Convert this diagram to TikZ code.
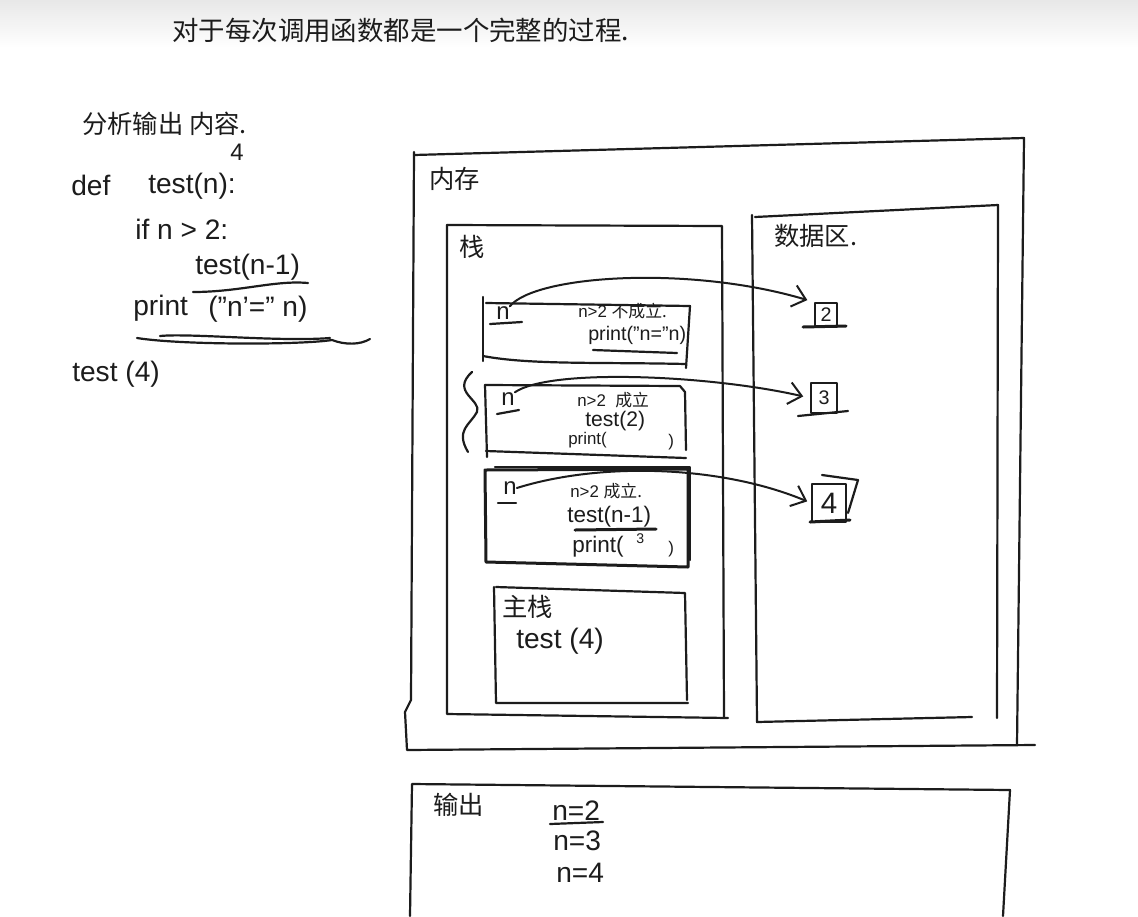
\documentclass[tikz,border=0pt]{standalone}
\usepackage{fontspec}
\setmainfont{Liberation Sans}
\newfontfamily\cjk{Noto Sans CJK SC}
\usepackage{xcolor}
\usepackage{tikz}
\usetikzlibrary{
	arrows.meta,
	calc,
	positioning
}
\definecolor{Ink}{RGB}{28,28,28}
\definecolor{TopBand}{RGB}{232,232,232}

\begin{document}
\begin{tikzpicture}[x=0.025cm, y=-0.025cm, line cap=round, line join=round,
		sketch/.style={draw=Ink, line width=0.55mm},
		heavy/.style={draw=Ink, line width=0.75mm},
		flow/.style={draw=Ink, line width=0.5mm, -{Straight Barb[length=3.2mm, width=5.5mm]}},
		code/.style={text=Ink, anchor=west, inner sep=0pt, font=\fontsize{20}{22}\selectfont},
		small/.style={code, font=\fontsize{12}{14}\selectfont},
		mid/.style={code, font=\fontsize{17}{19}\selectfont},
		head/.style={text=Ink, anchor=west, inner sep=0pt, font=\cjk\fontsize{18}{20}\selectfont},
		value/.style={draw=Ink, line width=0.45mm, text=Ink, inner sep=0pt, font=\fontsize{14}{16}\selectfont}
	]
		\useasboundingbox (0,0) rectangle (1138,916);
		\fill[white] (0,0) rectangle (1138,916);
		\shade[top color=TopBand, bottom color=white] (0,0) rectangle (1138,48);

		% title and left column
		\node[head, font=\cjk\fontsize{18.8}{20}\selectfont] (title) at (172,30) {对于每次调用函数都是一个完整的过程.};
		\node[head] (task) at (82,124) {分析输出 内容.};
		\node[mid] (four) at (230,152) {4};
		\node[code] (def) at (71,185) {def};
		\node[code] (deftest) at (148,186) {test(n):};
		\node[code] (ifline) at (135,229) {if n > 2:};
		\node[code] (recurse) at (195,267) {test(n-1)};
		\node[code] (prt) at (133,308) {print};
		\node[code] (prtargs) at (208,309) {("n'=" n)};
		\node[code] (calltest) at (72,374) {test (4)};
		\draw[sketch] (193,292) .. controls (240,292) and (275,280) .. (308,283);
		\draw[sketch] (137,338) .. controls (180,345) and (300,345) .. (332,340) .. controls (345,345) and (360,345) .. (370,339);
		\draw[sketch] (160,336) .. controls (190,333) and (280,342) .. (330,338);

		% memory
		\draw[sketch] (414,152) -- (411,700) -- (405,712) -- (407,750) -- (1035,745);
		\draw[sketch] (414,155) -- (1024,138) -- (1017,745);
		\node[head] (memlabel) at (429,179) {内存};

		% stack
		\draw[sketch] (447,225) -- (722,226) -- (724,718);
		\draw[sketch] (447,225) -- (447,714) -- (728,718);
		\node[head] (stacklabel) at (459,247) {栈};
		\draw[sketch] (472,372) .. controls (450,392) and (482,400) .. (477,412) .. controls (470,425) and (455,430) .. (468,452);

		% data area
		\draw[sketch] (755,217) -- (998,205) -- (997,718);
		\draw[sketch] (752,215) -- (757,722) -- (972,717);
		\node[head] (datalabel) at (774,236) {数据区.};

		% frame n=2
		\draw[sketch] (483,297) -- (483,361);
		\draw[sketch] (486,303) -- (690,306) -- (686,368);
		\draw[sketch] (483,356) .. controls (530,365) and (600,362) .. (686,364);
		\node[mid] (n2) at (496,313) {n};
		\node[small] (cond2) at (578,311) {n>2 {\cjk 不成立.}};
		\node[code, font=\fontsize{14}{16}\selectfont] (print2) at (588,335) {print("n="n)};
		\draw[sketch] (490,324) -- (522,322);
		\draw[sketch] (593,350) -- (677,353);

		% frame n=3
		\draw[sketch] (485,385) -- (680,386) -- (685,392) -- (686,450);
		\draw[sketch] (485,385) -- (487,457);
		\draw[sketch] (486,451) -- (686,458);
		\node[mid] (n3) at (501,399) {n};
		\node[small] (cond3) at (577,400) {n>2 \ {\cjk 成立}};
		\node[mid, font=\fontsize{15}{17}\selectfont] (call3) at (585,421) {test(2)};
		\node[small] (print3) at (568,440) {print(};
		\node[small] (close3) at (668,442) {)};
		\draw[sketch] (497,414) -- (519,410);

		% frame n=4
		\draw[heavy] (485,470) -- (688,469) -- (688,567) -- (486,562) -- cycle;
		\draw[sketch] (495,467) -- (690,467) -- (690,560);
		\node[mid] (n4) at (503,488) {n};
		\node[small] (cond4) at (570,491) {n>2 {\cjk 成立.}};
		\node[code, font=\fontsize{16}{18}\selectfont] (call4) at (567,517) {test(n-1)};
		\node[code, font=\fontsize{16}{18}\selectfont] (print4) at (572,547) {print(};
		\node[code, font=\fontsize{10}{12}\selectfont] (three) at (636,539) {3};
		\node[small] (close4) at (668,549) {)};
		\draw[sketch] (498,503) -- (516,503);
		\draw[heavy] (575,530) -- (656,529);

		% main frame
		\draw[sketch] (496,587) -- (685,593) -- (687,700);
		\draw[sketch] (494,587) -- (496,703) -- (688,703);
		\node[head] (mainlabel) at (502,607) {主栈};
		\node[code] (maincall) at (516,641) {test (4)};

		% values
		\node[value, minimum width=0.55cm, minimum height=0.6cm] (v2) at (826,315) {2};
		\node[value, minimum width=0.65cm, minimum height=0.75cm] (v3) at (824,398) {3};
		\node[value, minimum width=0.85cm, minimum height=0.95cm, font=\fontsize{21}{23}\selectfont] (v4) at (829,503) {4};
		\draw[heavy] (803,327) -- (846,326);
		\draw[sketch] (798,416) -- (848,411);
		\draw[heavy] (810,522) -- (850,520);
		\draw[sketch] (822,475) -- (858,480) -- (848,513);

		\draw[flow, shorten >=5pt] (n2.north east) .. controls (535,275) and (690,265) .. (v2.north west);
		\draw[flow, shorten >=5pt] (n3.north east) .. controls (550,368) and (710,375) .. (v3.west);
		\draw[flow, shorten >=3pt] (n4.east) .. controls (600,462) and (720,465) .. (v4.west);

		% output
		\draw[sketch] (410,916) -- (412,784) -- (1010,790) -- (1003,916);
		\node[head] (outlabel) at (433,805) {输出};
		\node[code] (out2) at (552,811) {n=2};
		\node[code] (out3) at (553,841) {n=3};
		\node[code] (out4) at (556,873) {n=4};
		\draw[sketch] (550,824) -- (603,822);
	\end{tikzpicture}
\end{document}
